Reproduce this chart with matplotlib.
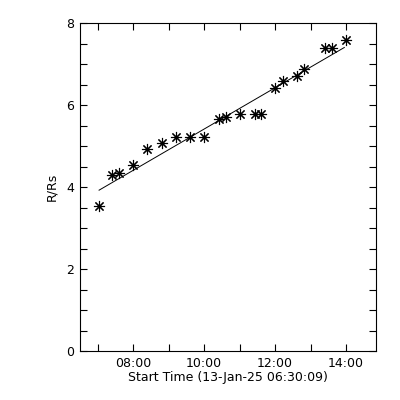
import matplotlib
matplotlib.use("Agg")
import matplotlib.pyplot as plt
from matplotlib.ticker import MultipleLocator, FixedLocator, FixedFormatter

# === data (hours of day, 13-Jan-25) ===
t_hours = [7.04, 7.41, 7.61, 8.00, 8.40, 8.81, 9.21, 9.61, 10.00, 10.43, 10.61,
           11.02, 11.42, 11.61, 12.01, 12.21, 12.62, 12.82, 13.41, 13.61, 14.00]
r_rs = [3.54, 4.29, 4.34, 4.54, 4.93, 5.07, 5.23, 5.23, 5.23, 5.67, 5.72,
        5.78, 5.78, 5.80, 6.41, 6.59, 6.71, 6.89, 7.39, 7.39, 7.60]

# linear fit endpoints as drawn
fit_t = [7.04, 13.95]
fit_r = [3.93, 7.41]

tick_pos = [8, 10, 12, 14]
tick_lab = ["08:00", "10:00", "12:00", "14:00"]

t_start = 6 + 30 / 60 + 9 / 3600  # 06:30:09
t_end = t_start + 8.34

plt.rcParams['font.family'] = 'DejaVu Sans'
fig = plt.figure(figsize=(4, 4), dpi=100)
ax = fig.add_axes([80 / 400, 1 - 351.3 / 400, 296 / 400, 328 / 400])

ax.plot(t_hours, r_rs, linestyle='none', marker=(8, 2, 0), markersize=8,
        markeredgewidth=0.8, color='black')
ax.plot(fit_t, fit_r, color='black', linewidth=0.7)

ax.set_xlim(t_start, t_end)
ax.set_ylim(0, 8)

ax.xaxis.set_major_locator(FixedLocator(tick_pos))
ax.xaxis.set_major_formatter(FixedFormatter(tick_lab))
ax.xaxis.set_minor_locator(MultipleLocator(1))
ax.yaxis.set_major_locator(MultipleLocator(2))
ax.yaxis.set_minor_locator(MultipleLocator(0.5))

ax.tick_params(which='both', direction='in', top=True, right=True,
               length=5, width=0.8, labelsize=9, pad=4)
for s in ax.spines.values():
    s.set_linewidth(0.8)

ax.set_xlabel("Start Time (13-Jan-25 06:30:09)", fontsize=9, labelpad=1)
ax.set_ylabel("R/Rs", fontsize=9, labelpad=6)

fig.savefig("out.png", dpi=100)
